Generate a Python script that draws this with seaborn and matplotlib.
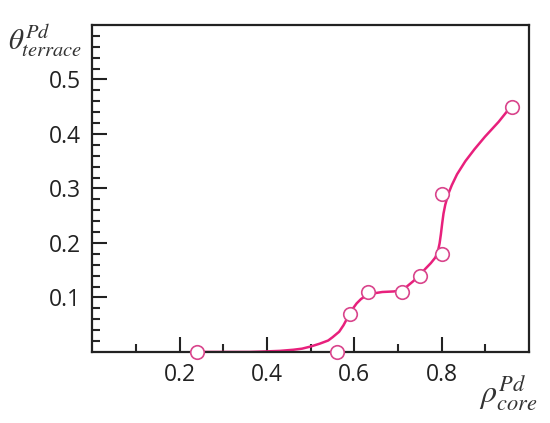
import numpy as np
import pandas as pd
import matplotlib
matplotlib.use("Agg")
import matplotlib.pyplot as plt
import seaborn as sns
from matplotlib.ticker import FixedLocator

# measured points
rho_core = [0.24, 0.56, 0.59, 0.63, 0.71, 0.75, 0.80, 0.80, 0.96]
theta_terrace = [0.0, 0.0, 0.07, 0.11, 0.11, 0.14, 0.18, 0.29, 0.45]

# smooth guide curve
curve_x = [0.24, 0.30, 0.36, 0.40, 0.43, 0.46, 0.48, 0.50, 0.52, 0.54, 0.55,
           0.565, 0.575, 0.585, 0.595, 0.605, 0.615, 0.626, 0.64, 0.664,
           0.69, 0.706, 0.72, 0.735, 0.747, 0.763, 0.775, 0.785, 0.791,
           0.795, 0.798, 0.801, 0.804, 0.808, 0.815, 0.823, 0.835, 0.854,
           0.875, 0.899, 0.93, 0.956]
curve_y = [0.0, 0.0, 0.0, 0.001, 0.002, 0.004, 0.006, 0.010, 0.015, 0.021, 0.027,
           0.037, 0.049, 0.064, 0.078, 0.089, 0.097, 0.103, 0.107, 0.110,
           0.111, 0.113, 0.120, 0.130, 0.139, 0.153, 0.163, 0.173, 0.184,
           0.199, 0.216, 0.236, 0.254, 0.270, 0.290, 0.306, 0.326, 0.350,
           0.372, 0.395, 0.422, 0.448]

pts = pd.DataFrame({"rho": rho_core, "theta": theta_terrace})
crv = pd.DataFrame({"rho": curve_x, "theta": curve_y})

sns.set_style("white")
plt.rcParams["font.family"] = ["Open Sans", "DejaVu Sans"]
plt.rcParams["mathtext.fontset"] = "stix"

fig = plt.figure(figsize=(5.5, 4.23), dpi=100)
ax = fig.add_axes([0.168, 0.168, 0.794, 0.773])

line_col = "#e8207c"
sns.lineplot(data=crv, x="rho", y="theta", ax=ax, color=line_col, lw=1.8,
             sort=False, estimator=None)
sns.scatterplot(data=pts, x="rho", y="theta", ax=ax, s=95, facecolor="white",
                edgecolor="#d9458c", linewidth=1.2, zorder=5, clip_on=False)

ax.set_xlim(0, 1.0)
ax.set_ylim(0, 0.6)
ax.xaxis.set_major_locator(FixedLocator([0.2, 0.4, 0.6, 0.8]))
ax.xaxis.set_minor_locator(FixedLocator([0.1, 0.3, 0.5, 0.7, 0.9]))
ax.yaxis.set_major_locator(FixedLocator([0.1, 0.2, 0.3, 0.4, 0.5]))
ax.yaxis.set_minor_locator(FixedLocator([v / 50 for v in range(1, 30) if v % 5 != 0]))
ax.tick_params(which="major", direction="in", length=11, width=1.5, labelsize=16.5,
               colors="#222222", pad=8)
ax.tick_params(which="minor", direction="in", length=5.5, width=1.5)
ax.tick_params(axis="x", which="both", bottom=True)
ax.tick_params(axis="y", which="both", left=True)
for s in ax.spines.values():
    s.set_linewidth(1.6)
    s.set_color("#222222")

ax.set_xlabel("")
ax.set_ylabel("")
fig.text(0.015, 0.905, r"$\theta^{Pd}_{terrace}$", fontsize=21, color="#333333",
         ha="left", va="center")
fig.text(0.978, 0.07, r"$\rho^{Pd}_{core}$", fontsize=23, color="#333333",
         ha="right", va="center")

fig.savefig("out.png", dpi=100)
